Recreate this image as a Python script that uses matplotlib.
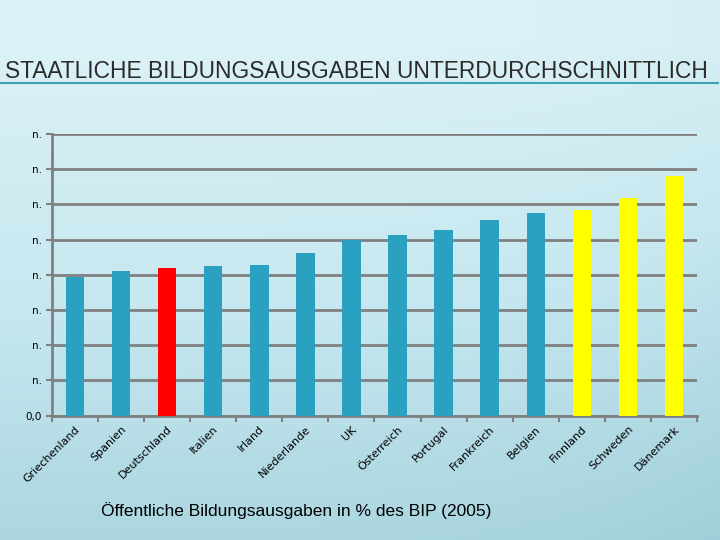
import numpy as np
import matplotlib.pyplot as plt
from matplotlib.colors import LinearSegmentedColormap

# Daten
laender = ["Griechenland", "Spanien", "Deutschland", "Italien", "Irland",
           "Niederlande", "UK", "Österreich", "Portugal", "Frankreich",
           "Belgien", "Finnland", "Schweden", "Dänemark"]
ausgaben = [3.95, 4.12, 4.18, 4.26, 4.29, 4.63, 4.99, 5.13, 5.28, 5.57,
            5.77, 5.84, 6.19, 6.82]
farben = ["#2ba1c1"] * 2 + ["#ff0000"] + ["#2ba1c1"] * 8 + ["#ffff00"] * 3
y_ticks = [0, 1, 2, 3, 4, 5, 6, 7, 8]
y_labels = ["0,0"] + ["n."] * 8

fig = plt.figure(figsize=(7.2, 5.4), dpi=100)

# Hintergrund: Verlauf hellblau -> türkis
bg = fig.add_axes([0, 0, 1, 1], zorder=-10)
yy, xx = np.mgrid[0:1:300j, 0:1:400j]
t = np.clip((yy - 0.08) / 0.92, 0, 1) ** 0.9 * 0.85 + xx ** 4 * 0.15
cmap = LinearSegmentedColormap.from_list("bg", ["#dcf2f7", "#c6e7ef", "#a0cfda"])
bg.imshow(t, cmap=cmap, aspect="auto", extent=[0, 1, 0, 1], origin="upper",
          vmin=0, vmax=1)
bg.set_xlim(0, 1)
bg.set_ylim(0, 1)
bg.axis("off")

# Titel mit Unterstrich
fig.text(0.007, 0.868, "STAATLICHE BILDUNGSAUSGABEN UNTERDURCHSCHNITTLICH",
         fontsize=16.4, family="Liberation Sans", color="#2b2b2b",
         va="center", ha="left")
bg.plot([0, 0.997], [0.847, 0.847], color="#3fa3b5", lw=1.5)

ax = fig.add_axes([0.0722, 0.2302, 0.8958, 0.5217])
ax.patch.set_alpha(0)
x = np.arange(len(laender))
ax.bar(x, ausgaben, width=0.4, color=farben, zorder=3)
ax.set_xlim(-0.5, len(laender) - 0.5)
ax.set_ylim(0, 8)
ax.set_yticks(y_ticks)
ax.set_yticklabels(y_labels, fontsize=7.5)
ax.yaxis.grid(True, color="#808080", lw=2, zorder=0)
ax.set_xticks(x)
ax.set_xticklabels(laender, rotation=45, ha="right", rotation_mode="anchor",
                   fontsize=8)
ax.set_xticks(np.arange(-0.5, len(laender)), minor=True)
ax.tick_params(axis="x", which="major", length=0, pad=6)
ax.tick_params(axis="x", which="minor", length=4, color="#808080", width=1.5)
ax.tick_params(axis="y", length=4, color="#808080", width=1.5)
for s in ["top", "right"]:
    ax.spines[s].set_visible(False)
for s in ["left", "bottom"]:
    ax.spines[s].set_color("#808080")
    ax.spines[s].set_linewidth(2)

fig.text(0.412, 0.054, "Öffentliche Bildungsausgaben in % des BIP (2005)",
         fontsize=12.5, family="Liberation Sans", ha="center", va="center")

plt.savefig("out.png", dpi=100)
